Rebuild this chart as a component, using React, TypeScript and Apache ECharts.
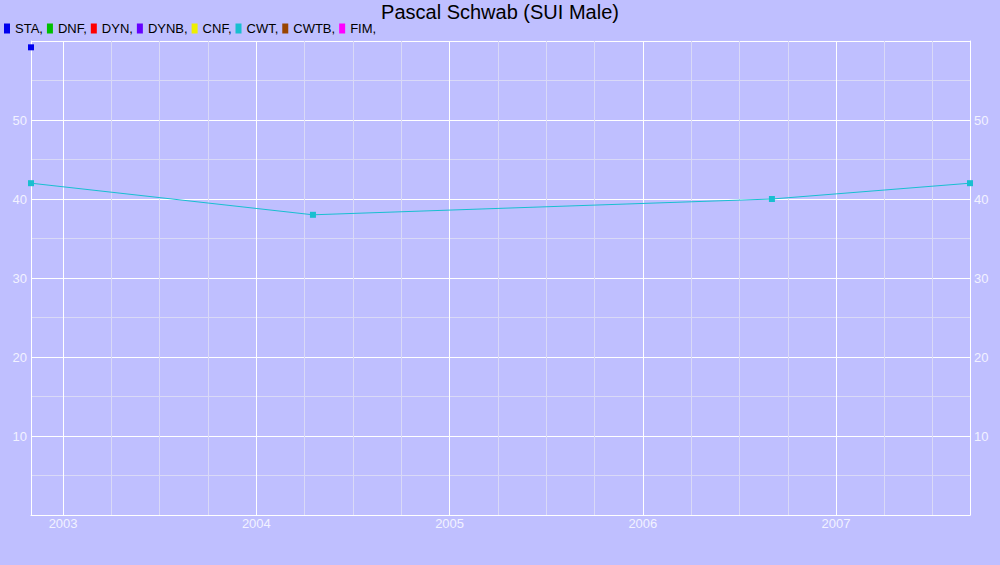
import { useEffect, useRef } from 'react'
import * as echarts from 'echarts'

// legend entries (disciplines) and their colours
const disciplines = ['STA', 'DNF', 'DYN', 'DYNB', 'CNF', 'CWT', 'CWTB', 'FIM']
const disciplineColors = ['#0000ee', '#00c000', '#ff0000', '#6600ff', '#eeee00', '#18bfd0', '#994400', '#ff00ff']

// results as [decimal year, value]
const staPoints: [number, number][] = [[2002.834, 59.2]]
const cwtPoints: [number, number][] = [
  [2002.834, 42],
  [2004.293, 38],
  [2006.668, 40],
  [2007.693, 42],
]

const xMin = 2002.834
const xMax = 2007.693
const yearTicks = [2003, 2004, 2005, 2006, 2007]
const quarterLines = [
  2003, 2003.25, 2003.5, 2003.75, 2004, 2004.25, 2004.5, 2004.75, 2005, 2005.25, 2005.5, 2005.75,
  2006, 2006.25, 2006.5, 2006.75, 2007, 2007.25, 2007.5,
]

const FONT = '"Liberation Sans", Arial, sans-serif'
const LABEL = '#f2f2ff'
const MAJOR = '#ffffff'
const MINOR = '#d9d9f7'

export default function App() {
  const ref = useRef<HTMLDivElement>(null)

  useEffect(() => {
    if (!ref.current) return
    const chart = echarts.init(ref.current, undefined, { renderer: 'svg' })

    const yAxisBase = {
      type: 'value' as const,
      min: 0,
      max: 60,
      interval: 10,
      axisLine: { show: true, lineStyle: { color: MAJOR, width: 1 } },
      axisTick: { show: false },
      axisLabel: {
        color: LABEL,
        fontSize: 13,
        fontFamily: FONT,
        margin: 4,
        showMinLabel: false,
        showMaxLabel: false,
      },
    }

    const dataSeries = disciplines.map((name, i) => {
      const data = name === 'STA' ? staPoints : name === 'CWT' ? cwtPoints : []
      return {
        name,
        type: 'line' as const,
        data,
        color: disciplineColors[i],
        symbol: 'rect',
        symbolSize: 6,
        lineStyle: { width: 1, color: disciplineColors[i] },
        itemStyle: { color: disciplineColors[i] },
        z: 3,
      }
    })

    chart.setOption({
      animation: false,
      backgroundColor: '#bfbfff',
      title: {
        text: 'Pascal Schwab (SUI Male)',
        left: 'center',
        top: 2,
        padding: 0,
        textStyle: { fontSize: 20, fontWeight: 'normal', color: '#000', fontFamily: FONT },
      },
      legend: {
        left: 4,
        top: 22,
        padding: 0,
        icon: 'rect',
        itemWidth: 6,
        itemHeight: 10,
        itemGap: 4,
        formatter: '{name},',
        data: disciplines,
        textStyle: { fontSize: 13, color: '#000', fontFamily: FONT },
      },
      grid: { left: 31, right: 30, top: 41, bottom: 50 },
      xAxis: {
        type: 'value',
        min: xMin,
        max: xMax,
        axisLine: { show: true, onZero: false, lineStyle: { color: MAJOR, width: 1 } },
        axisTick: { show: false },
        splitLine: { show: false },
        axisLabel: {
          customValues: yearTicks,
          color: LABEL,
          fontSize: 13,
          fontFamily: FONT,
          margin: 2,
          formatter: (v: number) => String(Math.round(v)),
        },
      },
      yAxis: [
        {
          ...yAxisBase,
          position: 'left',
          splitLine: { show: true, lineStyle: { color: MAJOR, width: 1 } },
          minorTick: { show: false, splitNumber: 2 },
          minorSplitLine: { show: true, lineStyle: { color: MINOR, width: 1 } },
        },
        {
          ...yAxisBase,
          position: 'right',
          splitLine: { show: false },
        },
      ],
      series: [
        {
          name: 'grid',
          type: 'line',
          data: [],
          z: 1,
          silent: true,
          markLine: {
            silent: true,
            z: 1,
            symbol: ['none', 'none'],
            label: { show: false },
            data: quarterLines.map((v) => ({
              xAxis: v,
              lineStyle: {
                type: 'solid',
                width: 1,
                color: Number.isInteger(v) ? MAJOR : MINOR,
              },
            })),
          },
        },
        ...dataSeries,
      ],
    })

    return () => chart.dispose()
  }, [])

  return <div ref={ref} style={{ position: 'absolute', left: 0, top: 0, width: 1000, height: 565 }} />
}
